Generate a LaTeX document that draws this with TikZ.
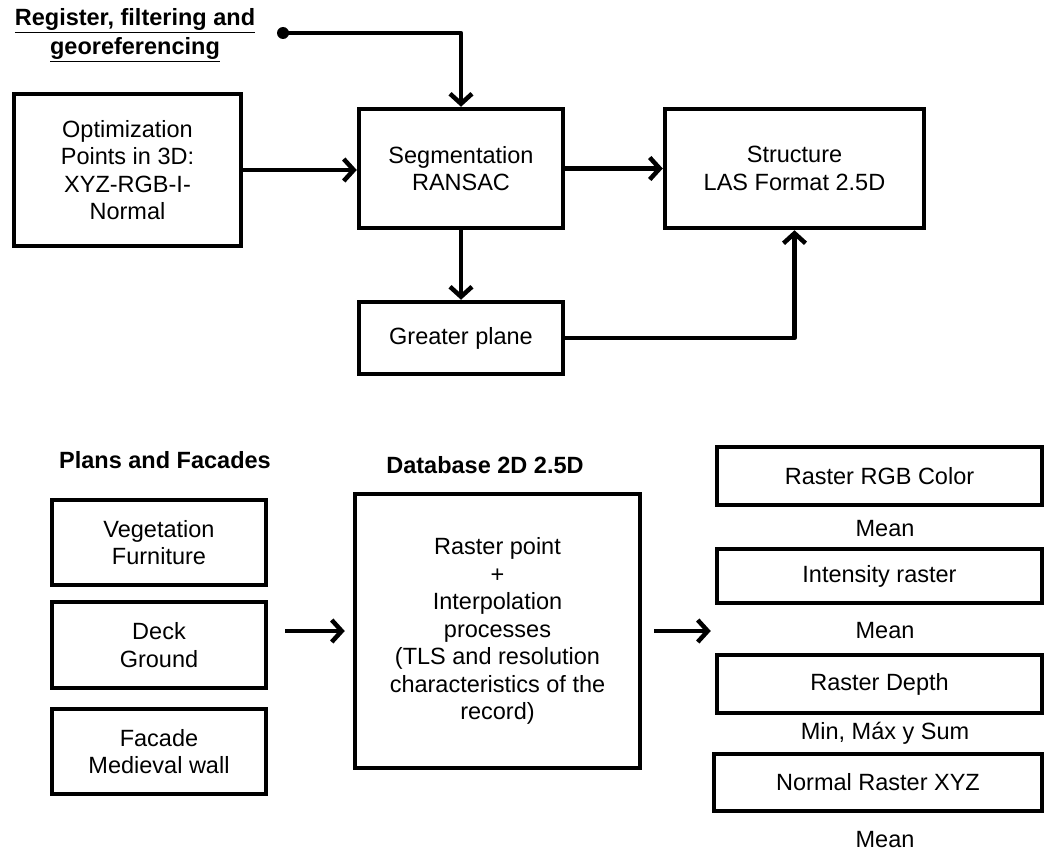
\documentclass[tikz,border=0pt]{standalone}
\usepackage{fontspec}
\setmainfont{Liberation Sans}
\usetikzlibrary{arrows.meta, positioning}

\begin{document}
\begin{tikzpicture}[
    x=1pt, y=-1pt,
    every node/.style={font=\fontsize{23.5}{27.5}\selectfont},
    box/.style={draw, line width=4.5pt, align=center, inner sep=0pt},
    head/.style={font=\bfseries\fontsize{23.5}{29}\selectfont, align=center},
    dotnode/.style={circle, fill, inner sep=0pt, minimum size=12pt},
    arrow/.style={-{Straight Barb[length=10pt, width=22pt]}, line width=4.5pt, line join=round}
]
\useasboundingbox (0,0) rectangle (1046,851);

% upper part
\node[head] (title) at (135,35) {\underline{Register, filtering and}\\\underline{georeferencing}};
\node[dotnode] (start) at (283,33) {};
\node[box, minimum width=227pt, minimum height=152pt] (opt) at (127.5,170) {Optimization\\Points in 3D:\\XYZ-RGB-I-\\Normal};
\node[box, minimum width=204pt, minimum height=119pt] (seg) at (461,168.5) {Segmentation\\RANSAC};
\node[box, minimum width=259pt, minimum height=119pt] (struct) at (794.5,168.5) {Structure\\LAS Format 2.5D};
\node[box, minimum width=204pt, minimum height=72pt] (plane) at (461,338) {Greater plane};

\draw[arrow] (start.center) -| (seg.north);
\draw[arrow] (opt.east) -- (opt.east -| seg.west);
\draw[arrow] (seg) -- (struct);
\draw[arrow] (seg) -- (plane);
\draw[arrow] (plane.east) -| (struct.south);

% lower part
\node[head] (plans) at (165,460) {Plans and Facades};
\node[head] (dbtitle) at (485,465) {Database 2D 2.5D};
\node[box, minimum width=214pt, minimum height=85pt] (veg) at (159,542.5) {Vegetation\\Furniture};
\node[box, minimum width=214pt, minimum height=86pt] (deck) at (159,645) {Deck\\Ground};
\node[box, minimum width=214pt, minimum height=85pt] (facade) at (159,751.5) {Facade\\Medieval wall};
\node[box, minimum width=285pt, minimum height=274pt] (db) at (497.5,631) {Raster point\\+\\Interpolation\\processes\\(TLS and resolution\\characteristics of the\\record)};

\node[box, minimum width=325pt, minimum height=58pt] (rgb) at (879.5,476) {Raster RGB Color};
\node (mean1) at (885,529) {Mean};
\node[box, minimum width=325pt, minimum height=54pt] (inten) at (879.5,576) {Intensity raster};
\node (mean2) at (885,631) {Mean};
\node[box, minimum width=325pt, minimum height=58pt] (depth) at (879.5,684) {Raster Depth};
\node (minmax) at (885,733) {Min, Máx y Sum};
\node[box, minimum width=328pt, minimum height=57pt] (normal) at (878,782.5) {Normal Raster XYZ};
\node (mean3) at (885,840) {Mean};

\draw[arrow] ([xshift=17pt]deck.east |- db.west) -- ([xshift=-8pt]db.west);
\draw[arrow] ([xshift=12pt]db.east) -- ([xshift=-4pt]db.east -| inten.west);
\end{tikzpicture}
\end{document}
